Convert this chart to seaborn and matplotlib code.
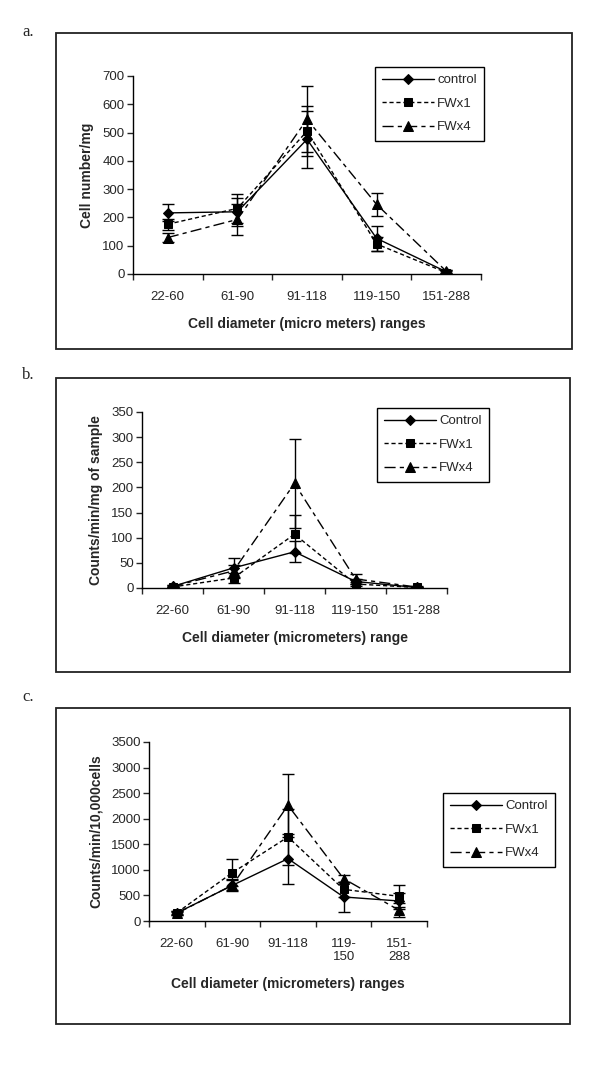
import matplotlib
matplotlib.use("Agg")
import matplotlib.pyplot as plt
import matplotlib.patches as patches
import numpy as np
import pandas as pd
import seaborn as sns

# categories (x axis)
ranges_ab = ["22-60", "61-90", "91-118", "119-150", "151-288"]
ranges_c = ["22-60", "61-90", "91-118", "119-\n150", "151-\n288"]

# panel a: cell number / mg
a_control = [216, 220, 476, 126, 8]
a_control_err = [30, 50, 100, 43, 5]
a_fwx1 = [176, 232, 505, 106, 5]
a_fwx1_err = [20, 50, 88, 25, 4]
a_fwx4 = [129, 193, 547, 246, 10]
a_fwx4_err = [15, 55, 117, 40, 5]

# panel b: counts/min/mg of sample
b_control = [3, 40, 72, 13, 1]
b_control_err = [2, 20, 21, 5, 1]
b_fwx1 = [2, 20, 107, 8, 1]
b_fwx1_err = [1, 10, 38, 4, 1]
b_fwx4 = [3, 34, 208, 18, 2]
b_fwx4_err = [2, 12, 88, 10, 1]

# panel c: counts/min/10,000 cells
c_control = [156, 697, 1219, 470, 391]
c_control_err = [30, 120, 490, 300, 150]
c_fwx1 = [160, 945, 1643, 619, 482]
c_fwx1_err = [30, 270, 540, 150, 215]
c_fwx4 = [150, 700, 2262, 828, 209]
c_fwx4_err = [30, 100, 620, 65, 140]

sns.set_theme(style="ticks")
plt.rcParams["font.family"] = ["Liberation Sans", "DejaVu Sans"]
plt.rcParams["legend.fancybox"] = False
plt.rcParams["legend.edgecolor"] = "black"
plt.rcParams["legend.framealpha"] = 1.0

W, H = 600, 1082
fig = plt.figure(figsize=(W / 100, H / 100), dpi=100)

marker_sizes = {"D": 5.0, "s": 6.0, "^": 6.5}


def fig_rect(x0, x1, ytop, ybot):
    return [x0 / W, 1 - ybot / H, (x1 - x0) / W, (ybot - ytop) / H]


def draw_panel(rect, cats, series, names, ymax, ystep, ylabel, xlabel, legend_xy, letter, box):
    # outer frame and panel letter
    bx0, bx1, by0, by1 = box
    fig.patches.append(patches.Rectangle((bx0 / W, 1 - by1 / H), (bx1 - bx0) / W, (by1 - by0) / H,
                                         transform=fig.transFigure, fill=False, edgecolor="#222222", lw=1.3))
    fig.text(letter[1] / W, 1 - letter[2] / H, letter[0], family="Liberation Serif", fontsize=12,
             ha="left", va="center")

    ax = fig.add_axes(rect)
    pos = np.arange(len(cats))
    rows = []
    for name, (vals, errs) in zip(names, series):
        for p, v in zip(pos, vals):
            rows.append({"pos": p, "value": v, "group": name})
    df = pd.DataFrame(rows)

    sns.lineplot(data=df, x="pos", y="value", style="group", ax=ax, color="black",
                 markers=dict(zip(names, ["D", "s", "^"])),
                 dashes=dict(zip(names, ["", (3, 2), (8, 3, 3, 3)])),
                 linewidth=1.0, markeredgecolor="black")

    for name, (vals, errs) in zip(names, series):
        ax.errorbar(pos, vals, yerr=errs, fmt="none", ecolor="black", elinewidth=1.0, capsize=4.5, capthick=1.0)

    ax.set_xlim(-0.5, len(cats) - 0.5)
    ax.set_ylim(0, ymax)
    ax.set_yticks(np.arange(0, ymax + 1, ystep))
    ax.set_xticks(pos)
    ax.set_xticklabels(cats, fontsize=9.5)
    ax.set_xticks(np.arange(-0.5, len(cats)), minor=True)
    ax.tick_params(axis="x", which="major", length=0, pad=12)
    ax.tick_params(axis="x", which="minor", length=4, width=1, direction="out")
    ax.tick_params(axis="y", length=4, width=1, direction="out", labelsize=9.5, pad=2)
    for s in ["top", "right"]:
        ax.spines[s].set_visible(False)
    for s in ["left", "bottom"]:
        ax.spines[s].set_color("black")
        ax.spines[s].set_linewidth(1.0)
    ax.set_ylabel(ylabel, fontsize=10, fontweight="bold", labelpad=6)
    ax.set_xlabel(xlabel, fontsize=10, fontweight="bold", labelpad=10)
    ax.set_facecolor("white")

    sns.move_legend(ax, loc="upper left", bbox_to_anchor=(legend_xy[0] / W, 1 - legend_xy[1] / H),
                    bbox_transform=fig.transFigure, title=None, frameon=True, fontsize=9.5,
                    handlelength=3.9, handletextpad=0.25, labelspacing=0.85, borderpad=0.55,
                    borderaxespad=0)
    leg = ax.get_legend()
    leg.get_frame().set_linewidth(1.0)

    # per-marker sizes, on the plot and in the legend
    for ln in list(ax.lines) + list(leg.get_lines()):
        m = ln.get_marker()
        if m in marker_sizes:
            ln.set_markersize(marker_sizes[m])
    return ax


names_a = ["control", "FWx1", "FWx4"]
names_bc = ["Control", "FWx1", "FWx4"]

draw_panel(fig_rect(133, 481, 76, 274), ranges_ab,
           [(a_control, a_control_err), (a_fwx1, a_fwx1_err), (a_fwx4, a_fwx4_err)],
           names_a, 700, 100, "Cell number/mg", "Cell diameter (micro meters) ranges",
           (375, 67), ("a.", 22, 32), (56, 572, 33, 349))

draw_panel(fig_rect(142, 447, 412, 588), ranges_ab,
           [(b_control, b_control_err), (b_fwx1, b_fwx1_err), (b_fwx4, b_fwx4_err)],
           names_bc, 350, 50, "Counts/min/mg of sample", "Cell diameter (micrometers) range",
           (377, 408), ("b.", 22, 375), (56, 570, 378, 672))

draw_panel(fig_rect(149, 427, 742, 921), ranges_c,
           [(c_control, c_control_err), (c_fwx1, c_fwx1_err), (c_fwx4, c_fwx4_err)],
           names_bc, 3500, 500, "Counts/min/10,000cells", "Cell diameter (micrometers) ranges",
           (443, 793), ("c.", 22, 697), (56, 570, 708, 1024))

fig.savefig("out.png", dpi=100, facecolor="white")
